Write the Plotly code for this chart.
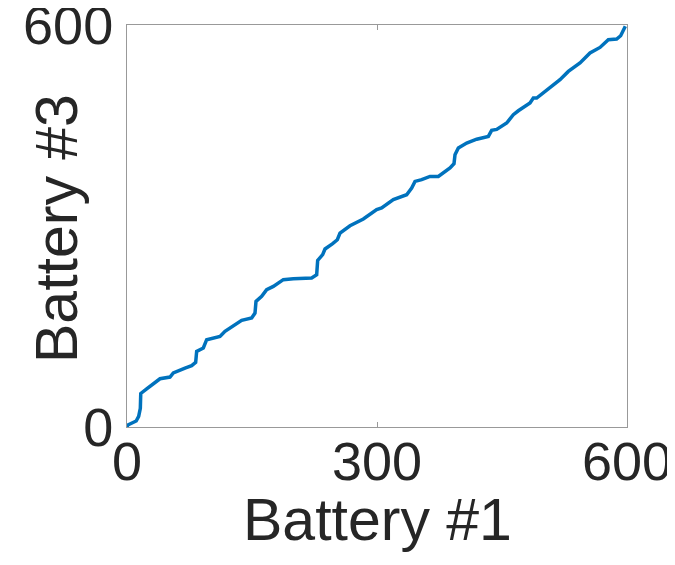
import plotly.graph_objects as go

# Battery #1 vs Battery #3
battery1 = [0, 1, 11, 14, 16, 16.5, 23.6, 39.6, 51.6, 55.6, 69.6, 77.6, 82.4, 83.6,
            91.6, 95.6, 111.6, 117.6, 137.6, 149.6, 153.6, 154.8, 161.6, 167.6,
            175.6, 187.6, 199.6, 221.6, 227.6, 228.8, 234.8, 237.6, 246.8, 252.4,
            255.6, 267.6, 283.6, 291.6, 299.6, 305.6, 319.6, 335.6, 341.6, 345.6,
            353.6, 363.6, 373.6, 387.6, 392.4, 393.6, 397.6, 407.6, 419.6, 433.6,
            437.6, 443.6, 455.6, 463.6, 469.6, 483.6, 487.6, 491.6, 507.6, 519.6,
            529.6, 543.6, 555.6, 567.6, 577.6, 587.6, 592.4, 596.4, 598]
battery3 = [0, 3, 9, 16, 28, 50, 57, 72, 74.6, 80.6, 88, 91.5, 96.4, 112.8,
            117.9, 130.3, 135.2, 142.7, 159.1, 162.7, 170.1, 187.5, 195, 205,
            209.9, 219.9, 221.3, 222.4, 227.3, 248.7, 257.2, 265.7, 273.6, 279.5,
            289.5, 300.4, 310.4, 316.9, 324.5, 327, 339.3, 346.7, 356.7, 366.6,
            369.1, 374, 374, 386.5, 393, 406.4, 416.4, 423.9, 429.5, 433.7,
            442.7, 444.2, 453.7, 466.1, 472, 483.6, 491, 491, 507, 518.3,
            530.7, 543.3, 558.2, 566.5, 578, 579, 584, 595.5, 598]

x_ticks = [0, 300, 600]
y_ticks = [0, 600]

fig = go.Figure()
fig.add_trace(go.Scatter(x=battery1, y=battery3, mode="lines",
                         line=dict(color="#0072BD", width=3.5)))

# page body has an 8px margin, so the figure is a bit smaller than the window
fig.update_layout(
    width=667, height=557,
    margin=dict(l=119, r=48, t=17, b=138),
    plot_bgcolor="white", paper_bgcolor="white",
    font=dict(family="Liberation Sans, Arial, sans-serif", color="#262626"),
    showlegend=False,
)

axis_style = dict(
    range=[0, 600], showgrid=False, zeroline=False, automargin=False,
    showline=True, linewidth=1, linecolor="#999999", mirror="ticks",
    ticks="inside", ticklen=5, tickcolor="#999999",
    tickfont=dict(size=54), ticklabeloverflow="allow",
)
fig.update_xaxes(tickvals=x_ticks, ticklabelstandoff=-13, **axis_style)
fig.update_yaxes(tickvals=y_ticks, ticklabelstandoff=2, **axis_style)

# axis titles as annotations so they sit where the reference has them
fig.add_annotation(text="Battery #1", xref="paper", yref="paper", x=0.5, y=0,
                   xanchor="center", yanchor="top", yshift=-58,
                   showarrow=False, font=dict(size=59))
fig.add_annotation(text="Battery #3", xref="paper", yref="paper", x=0, y=0.5,
                   xanchor="center", yanchor="middle", xshift=-70, yshift=-3,
                   textangle=-90, showarrow=False, font=dict(size=59))

fig.write_html("out.html")
